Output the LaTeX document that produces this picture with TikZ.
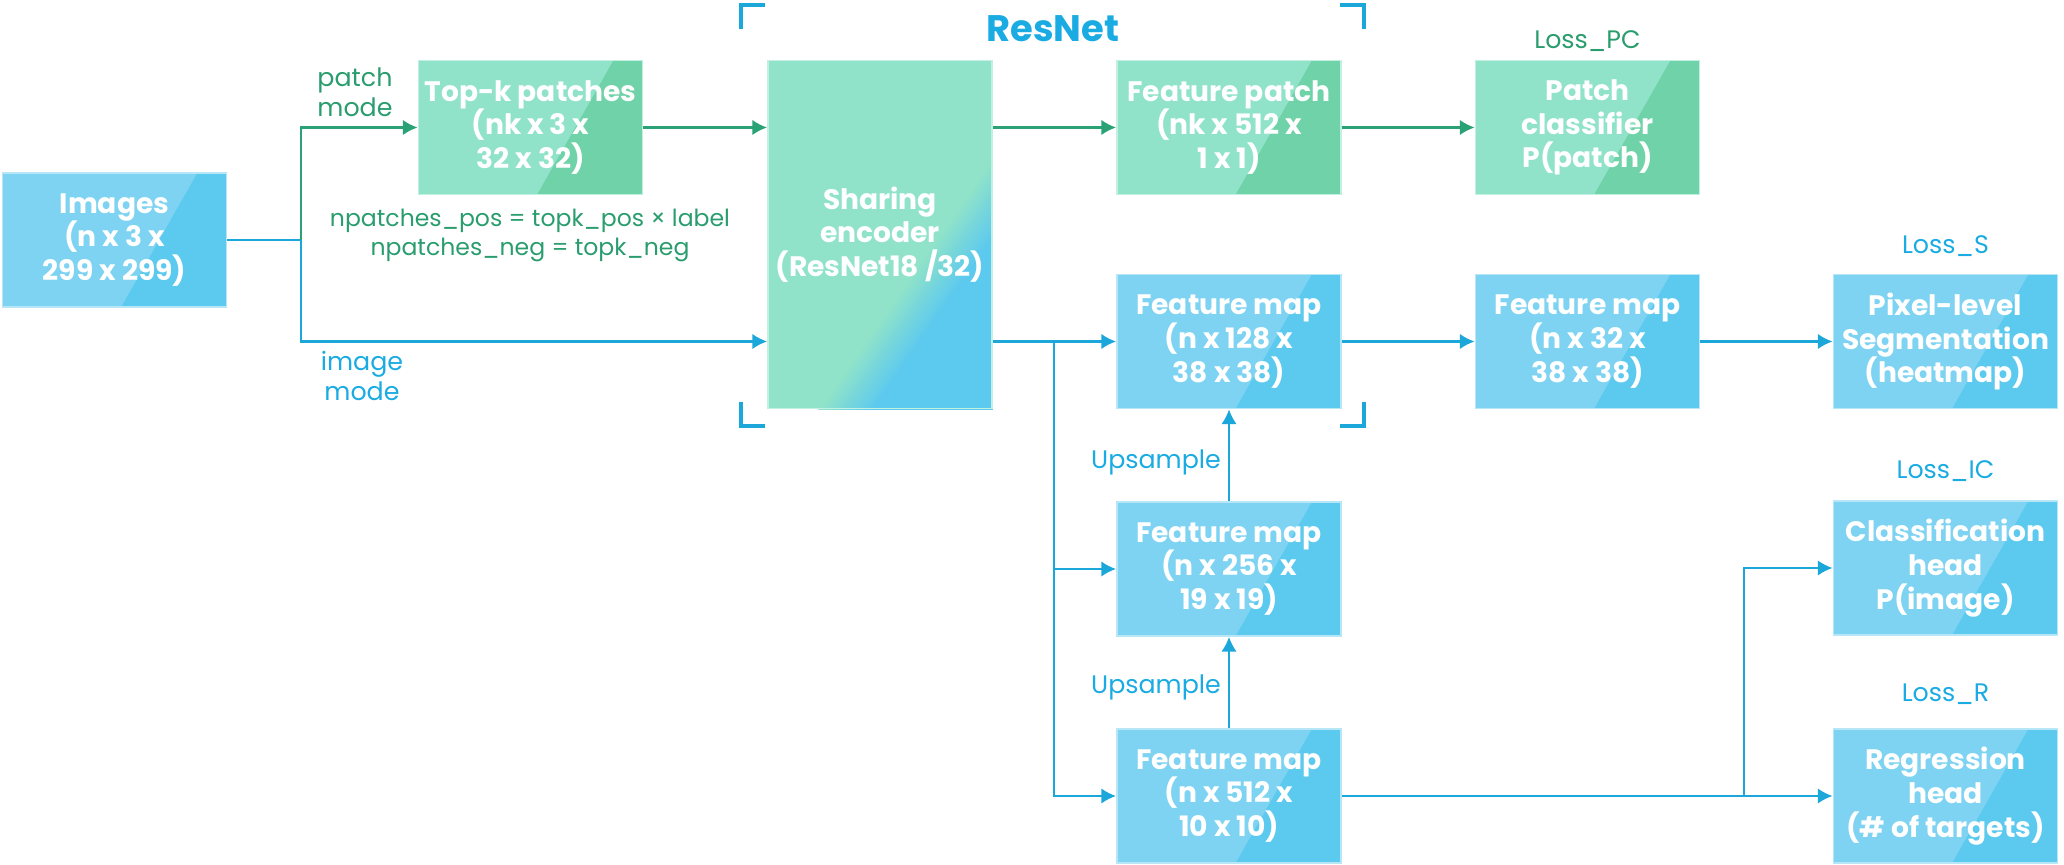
\documentclass[tikz,border=0pt]{standalone}
\usepackage{fontspec}
\setmainfont{Poppins}
\usetikzlibrary{arrows.meta,calc,backgrounds}
\definecolor{gl}{HTML}{90E3C9}
\definecolor{gd}{HTML}{6FD2A8}
\definecolor{bl}{HTML}{7DD3F1}
\definecolor{bd}{HTML}{5CC9EF}
\definecolor{cgline}{HTML}{2AA276}
\definecolor{cgtext}{HTML}{2A9D6E}
\definecolor{cbline}{HTML}{1BA7DA}
\definecolor{cbtext}{HTML}{1AABE2}
\newcommand\boxfont{\fontsize{8}{9.6}\selectfont\bfseries}
\newcommand\labfont{\fontsize{7.2}{8.4}\selectfont}
\begin{document}
\begin{tikzpicture}[x=0.01cm,y=-0.01cm,
  box/.style 2 args={draw=#1!55!white, line width=0.5pt, fill=#1,
    minimum width=2.24cm, minimum height=1.34cm, inner sep=0pt,
    align=center, text=white, font=\boxfont,
    path picture={\fill[#2]
      ($(path picture bounding box.north west)!0.87!(path picture bounding box.north east)$)
      -- (path picture bounding box.north east)
      -- (path picture bounding box.south east)
      -- ($(path picture bounding box.south west)!0.53!(path picture bounding box.south east)$)
      -- cycle;}},
  gbox/.style={box={gl}{gd}},
  bbox/.style={box={bl}{bd}},
  encbox/.style={draw=gl!55!white, line width=0.5pt,
    minimum width=2.24cm, minimum height=3.48cm, inner sep=0pt,
    align=center, text=white, font=\boxfont},
  gconn/.style={draw=cgline, line width=0.6pt},
  bconn/.style={draw=cbline, line width=0.6pt},
  garr/.style={gconn, -{Latex[length=4.2pt,width=4.4pt]}},
  barr/.style={bconn, -{Latex[length=4.2pt,width=4.4pt]}},
  glab/.style={text=cgtext, font=\labfont, align=center, inner sep=0pt},
  blab/.style={text=cbtext, font=\labfont, align=center, inner sep=0pt},
  brk/.style={draw=cbline, line width=0.9pt},
]
\useasboundingbox (0,0) rectangle (2064,865);

% boxes
\node[bbox] (img) at (114.5,240) {Images\\(n x 3 x\\299 x 299)};
\node[gbox] (topk) at (530.5,127.5) {Top-k patches\\(nk x 3 x\\32 x 32)};
\node[encbox] (enc) at (880,234.5) {Sharing\\encoder\\(ResNet18 /32)};
\node[gbox] (fpatch) at (1229,127.5) {Feature patch\\(nk x 512 x\\1 x 1)};
\node[gbox] (pcls) at (1587.5,127.5) {Patch\\classifier\\P(patch)};
\node[bbox] (fm128) at (1229,341.5) {Feature map\\(n x 128 x\\38 x 38)};
\node[bbox] (fm32) at (1587.5,341.5) {Feature map\\(n x 32 x\\38 x 38)};
\node[bbox] (seg) at (1945.5,341.5) {Pixel-level\\Segmentation\\(heatmap)};
\node[bbox] (fm256) at (1229,569) {Feature map\\(n x 256 x\\19 x 19)};
\node[bbox] (cls) at (1945.5,568) {Classification\\head\\P(image)};
\node[bbox] (fm512) at (1229,796) {Feature map\\(n x 512 x\\10 x 10)};
\node[bbox] (reg) at (1945.5,796) {Regression\\head\\(\# of targets)};

% gradient background of the encoder
\begin{scope}[on background layer]
  \clip (enc.south west) rectangle (enc.north east);
  \fill[gl] (enc.south west) rectangle (enc.north east);
  \begin{scope}[shift={(enc.center)}, rotate=-34.7]
    \foreach \k in {0,...,24}{
      \pgfmathtruncatemacro\pc{100*\k/24}
      \pgfmathsetmacro\tk{49+45*\k/24}
      \fill[bd!\pc!gl] (\tk,-600) -- (600,-600) -- (600,600) -- (\tk,600) -- cycle;
    }
  \end{scope}
\end{scope}

% labels
\node[glab] (lpm) at (355,92.5) {patch\\mode};
\node[glab, font=\fontsize{6.7}{8.4}\selectfont] (lnp) at (530,235.5) {npatches\_pos = topk\_pos × label\\npatches\_neg = topk\_neg};
\node[blab] (lim) at (362,376) {image\\mode};
\node[text=cbtext, font=\fontsize{10.5}{12}\selectfont\bfseries, inner sep=0pt] (lres) at (1053,29) {ResNet};
\node[glab] (lpc) at (1587.5,41) {Loss\_PC};
\node[blab] (ls) at (1945.5,246) {Loss\_S};
\node[blab] (lic) at (1945.5,471) {Loss\_IC};
\node[blab] (lr) at (1945.5,694) {Loss\_R};
\node[blab] (lup1) at (1156,462) {Upsample};
\node[blab] (lup2) at (1156,687) {Upsample};

% junctions
\coordinate (j1) at (301.4,240);
\coordinate (j2) at (1054,341.5);
\coordinate (j3) at (1744,796);

% connectors
\draw[bconn] (img.east) -- (j1);
\draw[garr] (j1) |- (topk.west);
\draw[barr] (j1) |- (enc.west |- fm128.west);
\draw[garr] (topk.east) -- (enc.west |- topk.east);
\draw[garr] (enc.east |- fpatch.west) -- (fpatch.west);
\draw[garr] (fpatch) -- (pcls);
\draw[barr] (enc.east |- fm128.west) -- (fm128.west);
\draw[barr] (j2) |- (fm256.west);
\draw[barr] (j2) |- (fm512.west);
\draw[barr] (fm128) -- (fm32);
\draw[barr] (fm32) -- (seg);
\draw[barr] (fm512) -- (fm256);
\draw[barr] (fm256) -- (fm128);
\draw[barr] (fm512) -- (reg);
\draw[barr] (j3) |- (cls.west);

% ResNet brackets
\draw[brk] (741,29) -- (741,5) -- (765,5);
\draw[brk] (1340,5) -- (1364,5) -- (1364,29);
\draw[brk] (741,402) -- (741,426) -- (765,426);
\draw[brk] (1340,426) -- (1364,426) -- (1364,402);
\end{tikzpicture}
\end{document}
